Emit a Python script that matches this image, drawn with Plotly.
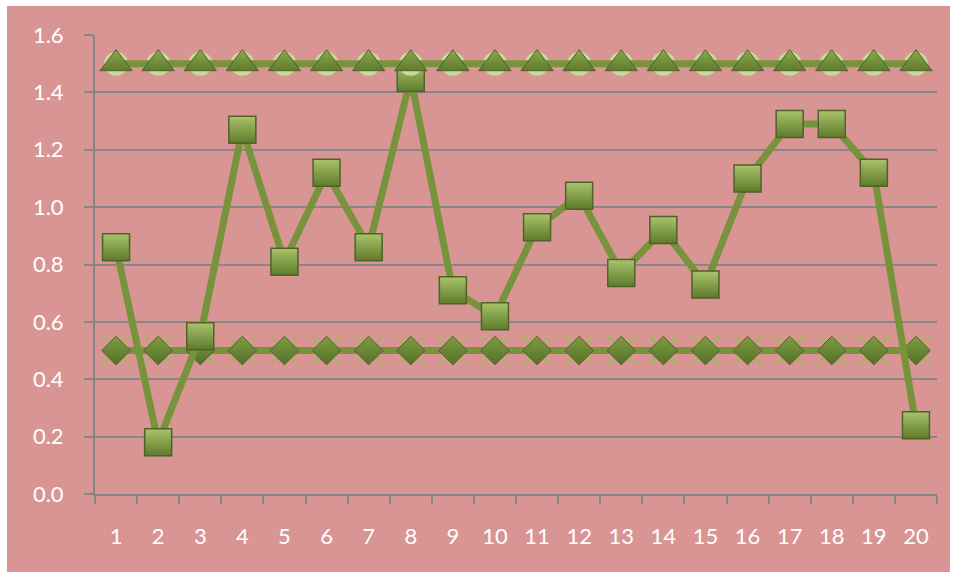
import plotly.graph_objects as go

# Data
categories = [str(i) for i in range(1, 21)]
upper_band = [1.5] * 20
measured = [0.86, 0.18, 0.55, 1.27, 0.81, 1.12, 0.86, 1.45, 0.71, 0.62,
            0.93, 1.04, 0.77, 0.92, 0.73, 1.10, 1.29, 1.29, 1.12, 0.24]
lower_band = [0.5] * 20
y_ticks = [0.0, 0.2, 0.4, 0.6, 0.8, 1.0, 1.2, 1.4, 1.6]

LINE = "#77933C"
EDGE = "#4F6228"
FILL = "#6E8A35"
LIGHT = "#A9C46A"
GRID = "#878787"
BG = "#D99594"
FONT = dict(family="Lato", size=22, color="white")

fig = go.Figure()

# Lower band: glints behind the diamonds, then line + markers
fig.add_trace(go.Scatter(
    x=categories, y=lower_band, mode="markers", hoverinfo="skip",
    marker=dict(symbol="x-thin", size=27, line=dict(color="#9BBB59", width=2)),
    showlegend=False))
fig.add_trace(go.Scatter(
    x=categories, y=lower_band, mode="lines+markers", name="Lower",
    line=dict(color=LINE, width=7),
    marker=dict(symbol="diamond", size=22, color="#7E9C40",
                gradient=dict(type="vertical", color="#55702A"),
                line=dict(color=EDGE, width=1)),
    showlegend=False))

# Measured series
fig.add_trace(go.Scatter(
    x=categories, y=measured, mode="lines+markers", name="Measured",
    line=dict(color=LINE, width=7),
    marker=dict(symbol="square", size=27, color=LIGHT,
                gradient=dict(type="vertical", color="#5F7A2C"),
                line=dict(color=EDGE, width=1.5)),
    showlegend=False))

# Upper band: light domes behind the triangles, then line + markers
fig.add_trace(go.Scatter(
    x=categories, y=upper_band, mode="markers", hoverinfo="skip",
    marker=dict(symbol="circle", size=24, color="#C6DA9E",
                line=dict(width=0)),
    showlegend=False))
fig.add_trace(go.Scatter(
    x=categories, y=upper_band, mode="lines+markers", name="Upper",
    line=dict(color=LINE, width=7),
    marker=dict(symbol="triangle-up", size=28, color="#8DAA4E",
                gradient=dict(type="vertical", color="#5F7A2C"),
                line=dict(color=EDGE, width=1)),
    showlegend=False))

fig.update_layout(
    width=956, height=578,
    margin=dict(l=95, r=19, t=35, b=84),
    paper_bgcolor="white",
    plot_bgcolor=BG,
    font=FONT,
    shapes=[dict(type="rect", xref="paper", yref="paper", layer="below",
                 x0=-0.1045, x1=1.0154, y0=-0.170, y1=1.063,
                 fillcolor=BG, line=dict(width=0))],
)

fig.update_xaxes(
    type="category", range=[-0.5, 19.5],
    tickson="boundaries", ticks="outside", ticklen=8, tickwidth=2,
    tickcolor=GRID, showline=True, linecolor=GRID, linewidth=2,
    showgrid=False, ticklabelstandoff=22, tickfont=FONT)

fig.update_yaxes(
    range=[0, 1.6], tickvals=y_ticks, tickformat=".1f",
    ticks="outside", ticklen=9, tickwidth=2, tickcolor=GRID,
    showline=True, linecolor=GRID, linewidth=2,
    showgrid=True, gridcolor=GRID, gridwidth=2, zeroline=False,
    ticklabelstandoff=16, tickfont=FONT)

fig.write_html("out.html")
